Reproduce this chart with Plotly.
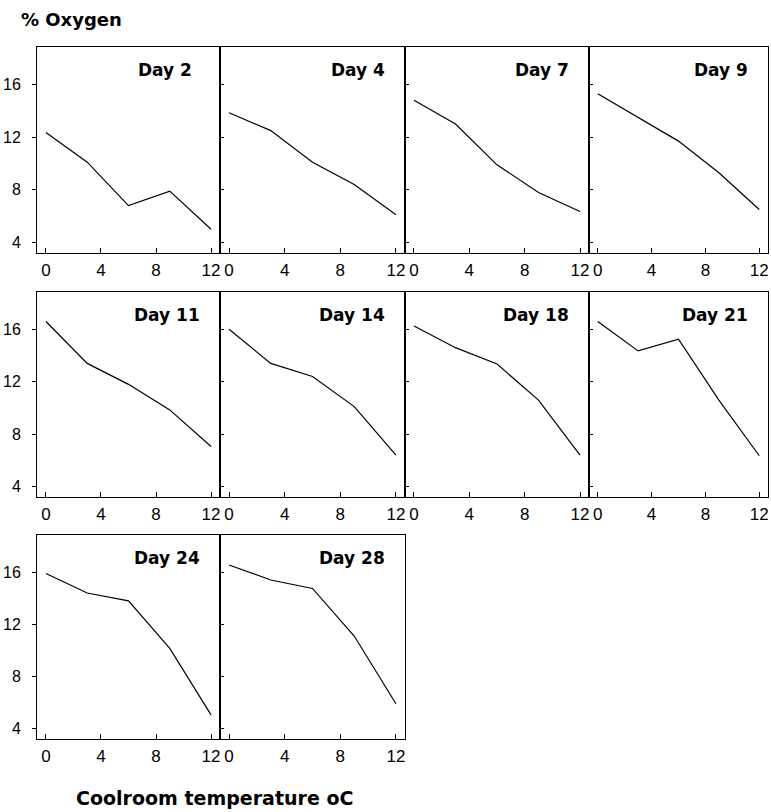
import plotly.graph_objects as go

# Coolroom temperatures (deg C) at which oxygen was measured
temps = [0, 3, 6, 9, 12]

days = ["Day 2", "Day 4", "Day 7", "Day 9", "Day 11",
        "Day 14", "Day 18", "Day 21", "Day 24", "Day 28"]

# % oxygen for each storage day, one value per coolroom temperature
day2 = [12.35, 10.1, 6.8, 7.9, 5.0]
day4 = [13.85, 12.5, 10.1, 8.4, 6.1]
day7 = [14.8, 13.0, 9.9, 7.8, 6.35]
day9 = [15.3, 13.5, 11.7, 9.3, 6.5]
day11 = [16.6, 13.4, 11.8, 9.85, 7.05]
day14 = [16.0, 13.4, 12.4, 10.1, 6.4]
day18 = [16.25, 14.6, 13.35, 10.6, 6.4]
day21 = [16.6, 14.35, 15.25, 10.6, 6.35]
day24 = [15.9, 14.4, 13.8, 10.15, 5.05]
day28 = [16.55, 15.4, 14.75, 11.1, 5.9]

series = [day2, day4, day7, day9, day11, day14, day18, day21, day24, day28]

x_ticks = [0, 4, 8, 12]
y_ticks = [4, 8, 12, 16]
x_tick_labels = ["0", "4", "8", "12"]
y_tick_labels = ["4", "8", "12", "16"]

W, H = 771, 812
# panel edges in pixels
col_edges = [(37, 220), (220, 405), (405, 589), (589, 768)]
row_edges = [(47, 253), (292, 497), (535, 739)]

tick_font = dict(family="Liberation Sans", size=17, color="black")
bold_font = "DejaVu Sans"

fig = go.Figure()
annotations = []
layout_axes = {}

for i, (name, vals) in enumerate(zip(days, series)):
    r, c = divmod(i, 4)
    n = i + 1
    xa = "x" if n == 1 else f"x{n}"
    ya = "y" if n == 1 else f"y{n}"
    fig.add_trace(go.Scatter(x=temps, y=vals, mode="lines",
                             line=dict(color="black", width=1.2),
                             xaxis=xa, yaxis=ya, showlegend=False,
                             hoverinfo="skip"))
    x0, x1 = col_edges[c]
    y0, y1 = row_edges[r]
    xkey = "xaxis" if n == 1 else f"xaxis{n}"
    ykey = "yaxis" if n == 1 else f"yaxis{n}"
    layout_axes[xkey] = dict(
        domain=[x0 / W, x1 / W], anchor=ya, range=[-0.65, 12.65],
        tickvals=x_ticks, ticktext=x_tick_labels, ticks="inside", ticklen=5,
        tickwidth=1, tickcolor="black", showline=True, linewidth=1,
        linecolor="black", mirror=True, showgrid=False, zeroline=False,
        tickfont=tick_font, ticklabelstandoff=2, automargin=False,
        fixedrange=True)
    first_col = c == 0
    layout_axes[ykey] = dict(
        domain=[1 - y1 / H, 1 - y0 / H], anchor=xa, range=[3.2, 18.85],
        tickvals=y_ticks, ticktext=y_tick_labels,
        ticks="outside" if first_col else "inside", ticklen=4, tickwidth=1,
        tickcolor="black", showticklabels=first_col, showline=True,
        linewidth=1, linecolor="black", mirror=True, showgrid=False,
        zeroline=False, tickfont=dict(tick_font, size=16),
        ticklabelstandoff=8, automargin=False, fixedrange=True)
    annotations.append(dict(
        text=f"<b>{name}</b>", xref=f"{xa} domain", yref=f"{ya} domain",
        x=1, y=1, xanchor="right", yanchor="middle",
        xshift=-26 if i == 0 else -18, yshift=-23,
        showarrow=False, font=dict(family=bold_font, size=17, color="black")))

annotations.append(dict(
    text="<b>% Oxygen</b>", xref="paper", yref="paper", x=19 / W, y=1 - 20 / H,
    xanchor="left", yanchor="middle", showarrow=False,
    font=dict(family=bold_font, size=18, color="black")))
annotations.append(dict(
    text="<b>Coolroom temperature oC</b>", xref="paper", yref="paper",
    x=214 / W, y=1 - 798 / H, xanchor="center", yanchor="middle",
    showarrow=False, font=dict(family=bold_font, size=19, color="black")))

fig.update_layout(
    width=W, height=H, margin=dict(l=0, r=0, t=0, b=0),
    paper_bgcolor="white", plot_bgcolor="white", template="none",
    annotations=annotations, **layout_axes)

fig.write_html("out.html", config={"displayModeBar": False})
